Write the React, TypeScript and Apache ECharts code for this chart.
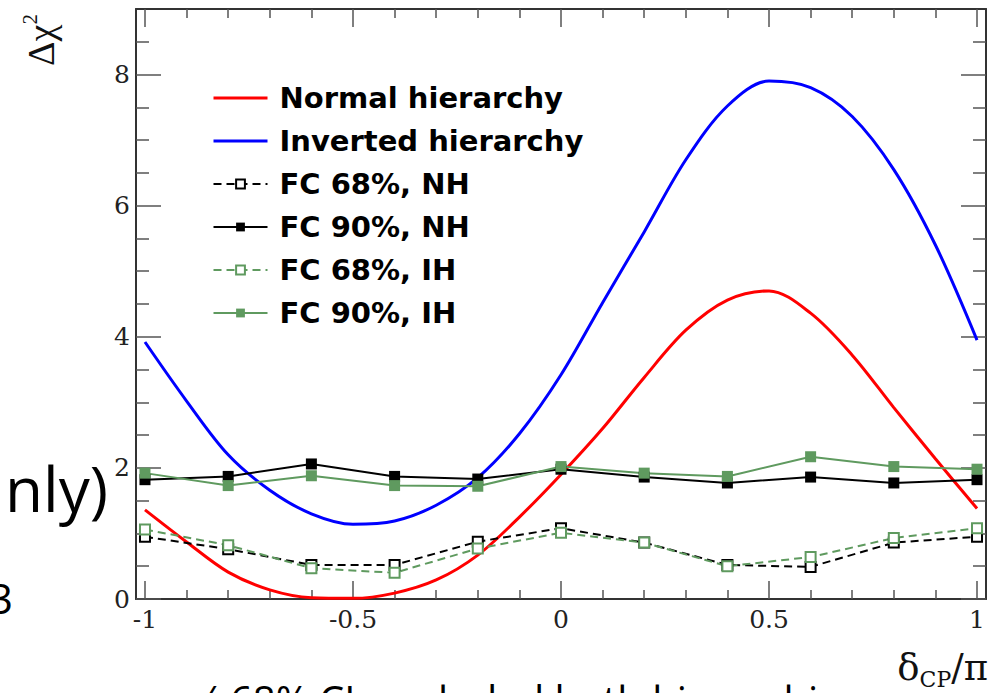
import React, { useEffect, useRef } from "react";
import * as echarts from "echarts";

// δCP/π sampling of the smooth Δχ² curves
const curveX = [-1, -0.9, -0.8, -0.7, -0.6, -0.5, -0.4, -0.3, -0.2, -0.1, 0, 0.1, 0.2, 0.3, 0.4, 0.5, 0.6, 0.7, 0.8, 0.9, 1];
const normalHierarchy = [1.36, 0.87, 0.41, 0.14, 0.02, 0.01, 0.09, 0.29, 0.67, 1.25, 1.9, 2.6, 3.38, 4.1, 4.56, 4.7, 4.36, 3.72, 2.92, 2.14, 1.38];
const invertedHierarchy = [3.92, 3.02, 2.2, 1.66, 1.3, 1.14, 1.19, 1.43, 1.85, 2.52, 3.42, 4.52, 5.6, 6.7, 7.52, 7.9, 7.8, 7.36, 6.55, 5.4, 3.95];

// Feldman-Cousins critical values
const fcX = [-1, -0.8, -0.6, -0.4, -0.2, 0, 0.2, 0.4, 0.6, 0.8, 1];
const fc68NH = [0.95, 0.76, 0.52, 0.52, 0.875, 1.08, 0.86, 0.52, 0.49, 0.86, 0.95];
const fc90NH = [1.82, 1.87, 2.06, 1.87, 1.83, 1.98, 1.86, 1.77, 1.86, 1.77, 1.82];
const fc68IH = [1.06, 0.82, 0.47, 0.4, 0.77, 1.01, 0.86, 0.5, 0.64, 0.93, 1.08];
const fc90IH = [1.92, 1.73, 1.88, 1.73, 1.72, 2.02, 1.92, 1.87, 2.17, 2.02, 1.98];

// tick labels / tick positions
const xMajorTicks = [-1, -0.5, 0, 0.5, 1];
const xMinorTicks = [-0.9, -0.8, -0.7, -0.6, -0.4, -0.3, -0.2, -0.1, 0.1, 0.2, 0.3, 0.4, 0.6, 0.7, 0.8, 0.9];
const yMajorTicks = [0, 2, 4, 6, 8];
const yMinorTicks = [0.5, 1, 1.5, 2.5, 3, 3.5, 4.5, 5, 5.5, 6.5, 7, 7.5, 8.5];

const seriesNames = ["Normal hierarchy", "Inverted hierarchy", "FC 68%, NH", "FC 90%, NH", "FC 68%, IH", "FC 90%, IH"];

const X_MIN = -1.0216;
const X_MAX = 1.0216;
const Y_MIN = 0;
const Y_MAX = 9;

const GREEN = "#5f9a5f";
const FRAME = "#333";
const TICK = "#555";
const SERIF = "Liberation Serif, DejaVu Serif, serif";
const WIDE_SERIF = "DejaVu Serif, Liberation Serif, serif";
const LEGEND_FONT = "DejaVu Sans, Liberation Sans, sans-serif";
const SLIDE_FONT = "Open Sans, Noto Sans, sans-serif";
const CURVE_SMOOTH = 0.33;

const pairs = (xs: number[], ys: number[]) => xs.map((x, i) => [x, ys[i]]);

function makeXAxis(position: "bottom" | "top", major: boolean, labels: boolean) {
  return {
    type: "value",
    position,
    min: X_MIN,
    max: X_MAX,
    splitLine: { show: false },
    axisLine: { show: major, onZero: false, lineStyle: { color: FRAME, width: 2 } },
    axisTick: {
      show: true,
      inside: true,
      length: major ? 18 : 9,
      customValues: major ? xMajorTicks : xMinorTicks,
      lineStyle: { color: TICK, width: 1.5 },
    },
    axisLabel: labels
      ? {
          show: true,
          customValues: xMajorTicks,
          margin: 8,
          fontFamily: WIDE_SERIF,
          fontSize: 25,
          color: "#222",
          formatter: (v: number) => String(v),
        }
      : { show: false },
  };
}

function makeYAxis(position: "left" | "right", major: boolean, labels: boolean) {
  return {
    type: "value",
    position,
    min: Y_MIN,
    max: Y_MAX,
    splitLine: { show: false },
    axisLine: { show: major, onZero: false, lineStyle: { color: FRAME, width: 2 } },
    axisTick: {
      show: true,
      inside: true,
      length: major ? 25 : 13,
      customValues: major ? yMajorTicks : yMinorTicks,
      lineStyle: { color: TICK, width: 1.5 },
    },
    axisLabel: labels
      ? {
          show: true,
          customValues: yMajorTicks,
          margin: 6,
          fontFamily: WIDE_SERIF,
          fontSize: 25,
          color: "#222",
          formatter: (v: number) => String(v),
        }
      : { show: false },
  };
}

export default function App() {
  const ref = useRef<HTMLDivElement>(null);

  useEffect(() => {
    if (!ref.current) return;
    const chart = echarts.init(ref.current, undefined, { renderer: "svg" });

    const option = {
      animation: false,
      backgroundColor: "#fff",
      grid: { left: 136, right: 12, top: 9, bottom: 94, containLabel: false },
      xAxis: [
        makeXAxis("bottom", true, true),
        makeXAxis("bottom", false, false),
        makeXAxis("top", true, false),
        makeXAxis("top", false, false),
      ],
      yAxis: [
        makeYAxis("left", true, true),
        makeYAxis("left", false, false),
        makeYAxis("right", true, false),
        makeYAxis("right", false, false),
      ],
      legend: {
        data: [
          { name: seriesNames[0], itemStyle: { opacity: 0 }, lineStyle: { width: 3 } },
          { name: seriesNames[1], itemStyle: { opacity: 0 }, lineStyle: { width: 3 } },
          { name: seriesNames[2] },
          { name: seriesNames[3] },
          { name: seriesNames[4] },
          { name: seriesNames[5] },
        ],
        orient: "vertical",
        left: 207,
        top: 78,
        itemWidth: 54,
        itemHeight: 11,
        itemGap: 13,
        selectedMode: false,
        textStyle: {
          fontFamily: LEGEND_FONT,
          fontWeight: "bold",
          fontSize: 29,
          color: "#000",
          lineHeight: 30,
          padding: [0, 0, 0, 7],
        },
      },
      series: [
        {
          name: seriesNames[0],
          type: "line",
          smooth: CURVE_SMOOTH,
          symbol: "none",
          z: 2,
          data: pairs(curveX, normalHierarchy),
          lineStyle: { color: "#ff0000", width: 3 },
          itemStyle: { color: "#ff0000" },
        },
        {
          name: seriesNames[1],
          type: "line",
          smooth: CURVE_SMOOTH,
          symbol: "none",
          z: 2,
          data: pairs(curveX, invertedHierarchy),
          lineStyle: { color: "#0000ff", width: 3 },
          itemStyle: { color: "#0000ff" },
        },
        {
          name: seriesNames[2],
          type: "line",
          symbol: "emptyRect",
          symbolSize: 10,
          z: 3,
          data: pairs(fcX, fc68NH),
          lineStyle: { color: "#000", width: 2, type: [8, 5] },
          itemStyle: { color: "#000", borderWidth: 1 },
        },
        {
          name: seriesNames[3],
          type: "line",
          symbol: "rect",
          symbolSize: 11,
          z: 3,
          data: pairs(fcX, fc90NH),
          lineStyle: { color: "#000", width: 2 },
          itemStyle: { color: "#000" },
        },
        {
          name: seriesNames[4],
          type: "line",
          symbol: "emptyRect",
          symbolSize: 10,
          z: 3,
          data: pairs(fcX, fc68IH),
          lineStyle: { color: GREEN, width: 2, type: [8, 5] },
          itemStyle: { color: GREEN, borderWidth: 1 },
        },
        {
          name: seriesNames[5],
          type: "line",
          symbol: "rect",
          symbolSize: 11,
          z: 3,
          data: pairs(fcX, fc90IH),
          lineStyle: { color: GREEN, width: 2 },
          itemStyle: { color: GREEN },
        },
      ],
      graphic: [
        {
          type: "text",
          x: 41,
          y: 40,
          rotation: Math.PI / 2,
          style: {
            text: "{a|Δχ}{s|2}",
            align: "center",
            verticalAlign: "middle",
            fill: "#111",
            rich: {
              a: { fontFamily: SERIF, fontSize: 38, lineHeight: 44, fill: "#111" },
              s: { fontFamily: SERIF, fontSize: 21, lineHeight: 20, verticalAlign: "top", fill: "#111" },
            },
          },
        },
        {
          type: "text",
          x: 988,
          y: 667,
          style: {
            text: "{a|δ}{s|CP}{a|/π}",
            align: "right",
            verticalAlign: "middle",
            fill: "#111",
            rich: {
              a: { fontFamily: WIDE_SERIF, fontSize: 37, lineHeight: 46, fill: "#111" },
              s: { fontFamily: WIDE_SERIF, fontSize: 22, lineHeight: 18, verticalAlign: "bottom", fill: "#111" },
            },
          },
        },
        {
          type: "text",
          x: 108,
          y: 488,
          style: {
            text: "nly)",
            align: "right",
            verticalAlign: "middle",
            fontFamily: SLIDE_FONT,
            fontSize: 62,
            fill: "#000",
          },
        },
        {
          type: "text",
          x: 13,
          y: 597,
          style: {
            text: "3",
            align: "right",
            verticalAlign: "middle",
            fontFamily: SLIDE_FONT,
            fontSize: 42,
            fill: "#000",
          },
        },
        {
          type: "text",
          x: 204,
          y: 679,
          style: {
            text: "⁄  68% CL excluded both hierarchies",
            align: "left",
            verticalAlign: "top",
            fontFamily: SLIDE_FONT,
            fontSize: 40,
            fill: "#000",
          },
        },
      ],
    };

    chart.setOption(option as any);
    return () => chart.dispose();
  }, []);

  return (
    <div
      ref={ref}
      style={{ position: "fixed", left: 0, top: 0, width: 998, height: 693 }}
    />
  );
}
